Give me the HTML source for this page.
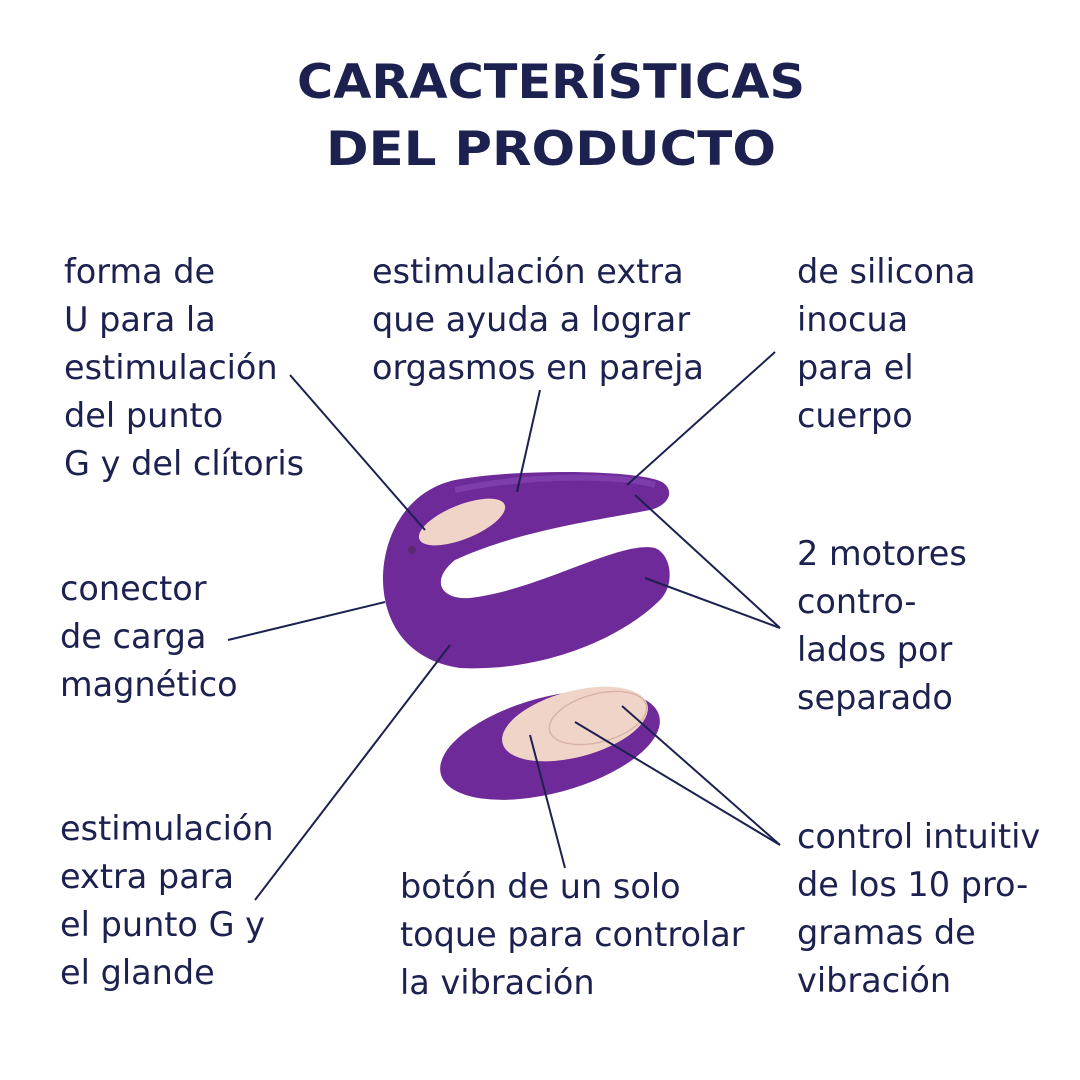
<!DOCTYPE html>
<html><head><meta charset="utf-8"><style>
html,body{margin:0;padding:0;background:#fff;}
svg{display:block;}
.t{font-family:"DejaVu Sans","Liberation Sans",sans-serif;font-weight:bold;font-size:47px;fill:#1c2150;}
.b{font-family:"DejaVu Sans","Liberation Sans",sans-serif;font-size:33.5px;fill:#1c2150;}
</style></head><body>
<svg width="1080" height="1080" viewBox="0 0 1080 1080" xmlns="http://www.w3.org/2000/svg">
<text class="t" x="551" y="98" text-anchor="middle" textLength="508" lengthAdjust="spacingAndGlyphs">CARACTERÍSTICAS</text>
<text class="t" x="551" y="165" text-anchor="middle" textLength="450" lengthAdjust="spacingAndGlyphs">DEL PRODUCTO</text>

<g class="b">
<text x="64" y="283">forma de</text><text x="64" y="331">U para la</text><text x="64" y="379">estimulación</text><text x="64" y="427">del punto</text><text x="64" y="475">G y del clítoris</text>
<text x="372" y="283">estimulación extra</text><text x="372" y="331">que ayuda a lograr</text><text x="372" y="379">orgasmos en pareja</text>
<text x="797" y="283">de silicona</text><text x="797" y="331">inocua</text><text x="797" y="379">para el</text><text x="797" y="427">cuerpo</text>
<text x="797" y="565">2 motores</text><text x="797" y="613">contro-</text><text x="797" y="661">lados por</text><text x="797" y="709">separado</text>
<text x="60" y="600">conector</text><text x="60" y="648">de carga</text><text x="60" y="696">magnético</text>
<text x="60" y="840">estimulación</text><text x="60" y="888">extra para</text><text x="60" y="936">el punto G y</text><text x="60" y="984">el glande</text>
<text x="400" y="898">botón de un solo</text><text x="400" y="946">toque para controlar</text><text x="400" y="994">la vibración</text>
<text x="797" y="848">control intuitiv</text><text x="797" y="896">de los 10 pro-</text><text x="797" y="944">gramas de</text><text x="797" y="992">vibración</text>
</g>

<!-- device -->
<path d="M662,482 C640,470 520,468 455,480 C410,490 385,530 383,575 C382,620 405,660 460,668 C540,672 620,640 660,600 C675,585 672,555 655,548 C620,540 540,590 470,598 C440,600 430,580 455,560 C520,530 600,520 650,510 C670,505 675,490 662,482 Z" fill="#6f2a9a"/>
<path d="M455,490 C520,475 620,474 655,485" stroke="#8a4ab8" stroke-width="6" fill="none" opacity="0.6"/>
<ellipse cx="462" cy="522" rx="46" ry="17" transform="rotate(-22 462 522)" fill="#f0d4c8"/>
<circle cx="412" cy="550" r="4" fill="#5a2a70"/>

<!-- remote -->
<ellipse cx="550" cy="745" rx="113" ry="48" transform="rotate(-15 550 745)" fill="#6f2a9a"/>
<ellipse cx="575" cy="724" rx="75" ry="33" transform="rotate(-15 575 724)" fill="#f0d4c8"/>
<ellipse cx="598" cy="718" rx="50" ry="24" transform="rotate(-15 598 718)" fill="none" stroke="#d8b4a8" stroke-width="1.5"/>

<!-- connectors -->
<g stroke="#1c2150" stroke-width="2" fill="none">
<line x1="290" y1="375" x2="425" y2="530"/>
<line x1="540" y1="390" x2="517" y2="492"/>
<line x1="775" y1="352" x2="627" y2="485"/>
<line x1="780" y1="628" x2="635" y2="495"/>
<line x1="780" y1="628" x2="645" y2="578"/>
<line x1="228" y1="640" x2="385" y2="602"/>
<line x1="255" y1="900" x2="450" y2="645"/>
<line x1="565" y1="868" x2="530" y2="735"/>
<line x1="780" y1="845" x2="575" y2="722"/>
<line x1="780" y1="845" x2="622" y2="706"/>
</g>
</svg>
</body></html>
